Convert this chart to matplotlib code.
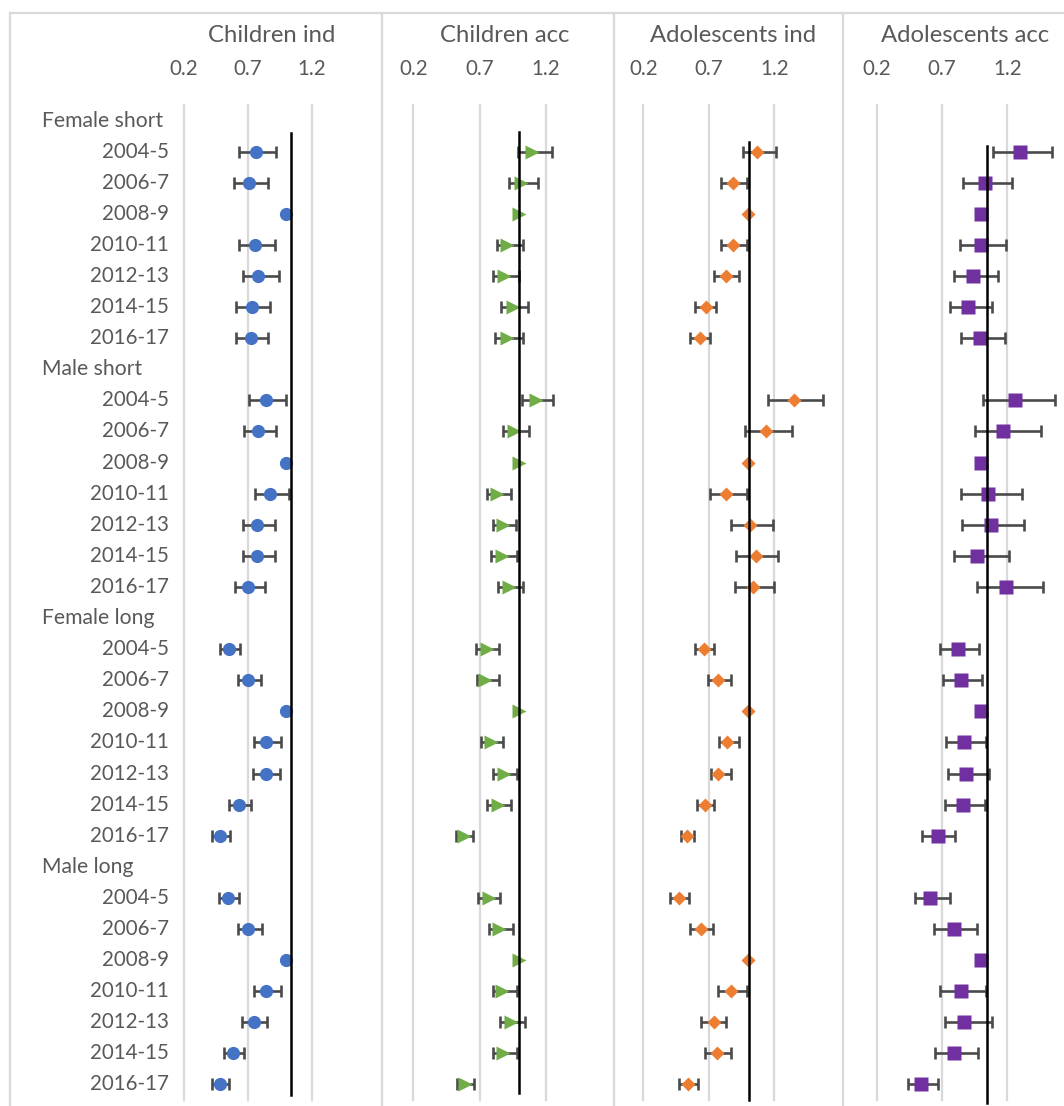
import numpy as np
import matplotlib.pyplot as plt
from matplotlib.lines import Line2D
from matplotlib.transforms import blended_transform_factory

plt.rcParams['font.family'] = ['Lato', 'DejaVu Sans']

GROUPS = ["Female short", "Male short", "Female long", "Male long"]
PERIODS = ["2004-5", "2006-7", "2008-9", "2010-11", "2012-13", "2014-15", "2016-17"]
PANELS = ["Children ind", "Children acc", "Adolescents ind", "Adolescents acc"]
TICKS = [0.2, 0.7, 1.2]

nan = np.nan

# odds ratios vs 2008-9, one list per group: female short, male short, female long, male long
children_ind_est = [[0.76, 0.71, 1.0, 0.755, 0.78, 0.73, 0.72],
                    [0.84, 0.78, 1.0, 0.87, 0.77, 0.77, 0.70],
                    [0.55, 0.70, 1.0, 0.84, 0.84, 0.63, 0.48],
                    [0.54, 0.70, 1.0, 0.84, 0.75, 0.585, 0.48]]
children_ind_lo = [[0.63, 0.59, nan, 0.63, 0.66, 0.61, 0.61],
                   [0.71, 0.67, nan, 0.755, 0.66, 0.66, 0.60],
                   [0.48, 0.62, nan, 0.75, 0.74, 0.55, 0.42],
                   [0.47, 0.62, nan, 0.75, 0.65, 0.51, 0.42]]
children_ind_hi = [[0.92, 0.86, nan, 0.91, 0.94, 0.87, 0.86],
                   [1.0, 0.92, nan, 1.02, 0.91, 0.91, 0.83],
                   [0.64, 0.80, nan, 0.96, 0.95, 0.72, 0.56],
                   [0.63, 0.81, nan, 0.96, 0.85, 0.67, 0.55]]

children_acc_est = [[1.10, 1.01, 1.0, 0.91, 0.885, 0.95, 0.91],
                    [1.13, 0.96, 1.0, 0.83, 0.875, 0.87, 0.925],
                    [0.755, 0.745, 1.0, 0.785, 0.885, 0.84, 0.58],
                    [0.77, 0.85, 1.0, 0.87, 0.935, 0.875, 0.59]]
children_acc_lo = [[0.99, 0.92, nan, 0.83, 0.80, 0.86, 0.82],
                   [1.02, 0.875, nan, 0.76, 0.80, 0.79, 0.84],
                   [0.675, 0.68, nan, 0.71, 0.80, 0.76, 0.52],
                   [0.69, 0.77, nan, 0.80, 0.855, 0.80, 0.53]]
children_acc_hi = [[1.245, 1.14, nan, 1.03, 1.0, 1.07, 1.025],
                   [1.255, 1.075, nan, 0.94, 0.975, 0.98, 1.025],
                   [0.845, 0.845, nan, 0.88, 0.98, 0.94, 0.65],
                   [0.855, 0.95, nan, 0.98, 1.045, 0.98, 0.66]]

adol_ind_est = [[1.07, 0.885, 1.0, 0.885, 0.83, 0.675, 0.635],
                [1.35, 1.14, 1.0, 0.835, 1.015, 1.06, 1.035],
                [0.66, 0.77, 1.0, 0.84, 0.77, 0.67, 0.535],
                [0.47, 0.64, 1.0, 0.87, 0.74, 0.76, 0.545]]
adol_ind_lo = [[0.96, 0.79, nan, 0.79, 0.74, 0.595, 0.56],
               [1.155, 0.975, nan, 0.71, 0.87, 0.91, 0.90],
               [0.595, 0.695, nan, 0.775, 0.715, 0.61, 0.485],
               [0.405, 0.56, nan, 0.77, 0.64, 0.67, 0.475]]
adol_ind_hi = [[1.21, 0.99, nan, 0.99, 0.93, 0.755, 0.71],
               [1.575, 1.335, nan, 0.995, 1.19, 1.23, 1.20],
               [0.74, 0.87, nan, 0.93, 0.87, 0.74, 0.585],
               [0.55, 0.735, nan, 0.995, 0.835, 0.87, 0.62]]

adol_acc_est = [[1.30, 1.03, 1.0, 1.0, 0.935, 0.90, 0.99],
                [1.26, 1.17, 1.0, 1.05, 1.075, 0.97, 1.19],
                [0.82, 0.845, 1.0, 0.87, 0.885, 0.86, 0.67],
                [0.61, 0.79, 1.0, 0.845, 0.87, 0.79, 0.54]]
adol_acc_lo = [[1.09, 0.86, nan, 0.84, 0.79, 0.76, 0.845],
               [1.015, 0.955, nan, 0.845, 0.855, 0.79, 0.965],
               [0.685, 0.705, nan, 0.73, 0.745, 0.72, 0.545],
               [0.49, 0.64, nan, 0.685, 0.72, 0.65, 0.44]]
adol_acc_hi = [[1.54, 1.235, nan, 1.19, 1.125, 1.08, 1.18],
               [1.565, 1.455, nan, 1.31, 1.33, 1.21, 1.47],
               [0.98, 1.005, nan, 1.035, 1.06, 1.03, 0.80],
               [0.76, 0.965, nan, 1.035, 1.085, 0.975, 0.67]]

# vertical black line at OR ~ 1 (hand placed in each chart)
ref_x = [1.033, 1.0, 1.005, 1.045]
ref_top = [0.40, 0.36, 0.68, 0.81]
ref_bottom = [31.34, 31.27, 31.5, 31.6]

panel_data = [(children_ind_est, children_ind_lo, children_ind_hi),
              (children_acc_est, children_acc_lo, children_acc_hi),
              (adol_ind_est, adol_ind_lo, adol_ind_hi),
              (adol_acc_est, adol_acc_lo, adol_acc_hi)]
markers = [dict(marker='o', ms=9.5, color='#4472C4'),
           dict(marker='>', ms=10, color='#70AD47'),
           dict(marker='D', ms=6.8, color='#ED7D31'),
           dict(marker='s', ms=9.5, color='#7030A0')]

TEXT = '#595959'
GRID = '#D9D9D9'
W, H = 1064, 1106

fig = plt.figure(figsize=(W / 100, H / 100), dpi=100)

# pixel extents of each plot area (x of 0.2 .. x of 1.7), rows span y 105..1100
x_extent = [(184, 376), (413.3, 611.9), (643.3, 839.8), (876.7, 1072.6)]
title_x = [272, 505, 733, 965]
y_top, y_bot = 105, 1100

row_y = {}
for g in range(len(GROUPS)):
    for p in range(len(PERIODS)):
        row_y[(g, p)] = g * 8 + 1 + p

axes = []
for i, (x0, x1) in enumerate(x_extent):
    ax = fig.add_axes([x0 / W, 1 - y_bot / H, (x1 - x0) / W, (y_bot - y_top) / H])
    ax.set_xlim(0.2, 1.7)
    ax.set_ylim(31.5, -0.5)
    for s in ax.spines.values():
        s.set_visible(False)
    ax.set_yticks([])
    ax.set_xticks(TICKS)
    ax.set_xticklabels([f"{t:.1f}" for t in TICKS])
    ax.tick_params(axis='x', top=True, labeltop=True, bottom=False, labelbottom=False,
                   length=0, pad=19, labelsize=14.8, labelcolor=TEXT)
    for t in TICKS:
        ax.axvline(t, color=GRID, lw=1.6, zorder=0, clip_on=False)

    est, lo, hi = panel_data[i]
    for g in range(len(GROUPS)):
        ys = [row_y[(g, p)] for p in range(len(PERIODS))]
        e = np.array(est[g])
        l = np.array(lo[g])
        h = np.array(hi[g])
        ok = ~np.isnan(l)
        ax.errorbar(e[ok], np.array(ys)[ok], xerr=[e[ok] - l[ok], h[ok] - e[ok]],
                    fmt='none', ecolor='#4a4a4a', elinewidth=1.9, capsize=4.2,
                    capthick=1.9, zorder=2)
        ax.plot(e, ys, ls='none', mec='none', zorder=3, **markers[i])

    ax.plot([ref_x[i], ref_x[i]], [ref_top[i], ref_bottom[i]], color='black',
            lw=1.8, zorder=4, clip_on=False)
    fig.text(title_x[i] / W, 1 - 35 / H, PANELS[i], ha='center', va='center',
             fontsize=17.2, color=TEXT)
    axes.append(ax)

# row labels on the left of the first chart
trans = blended_transform_factory(fig.transFigure, axes[0].transData)
for g, name in enumerate(GROUPS):
    axes[0].text(42 / W, g * 8, name, transform=trans, ha='left', va='center',
                 fontsize=15.2, color=TEXT)
    for p, per in enumerate(PERIODS):
        axes[0].text(169 / W, row_y[(g, p)], per, transform=trans, ha='right',
                     va='center', fontsize=14.8, color=TEXT)

# chart borders
for x in [10, 382, 614, 843]:
    fig.add_artist(Line2D([x / W, x / W], [0, 1 - 13 / H], color=GRID, lw=1.6))
fig.add_artist(Line2D([10 / W, 1], [1 - 13 / H, 1 - 13 / H], color=GRID, lw=1.6))

fig.savefig('out.png', dpi=100, facecolor='white')
